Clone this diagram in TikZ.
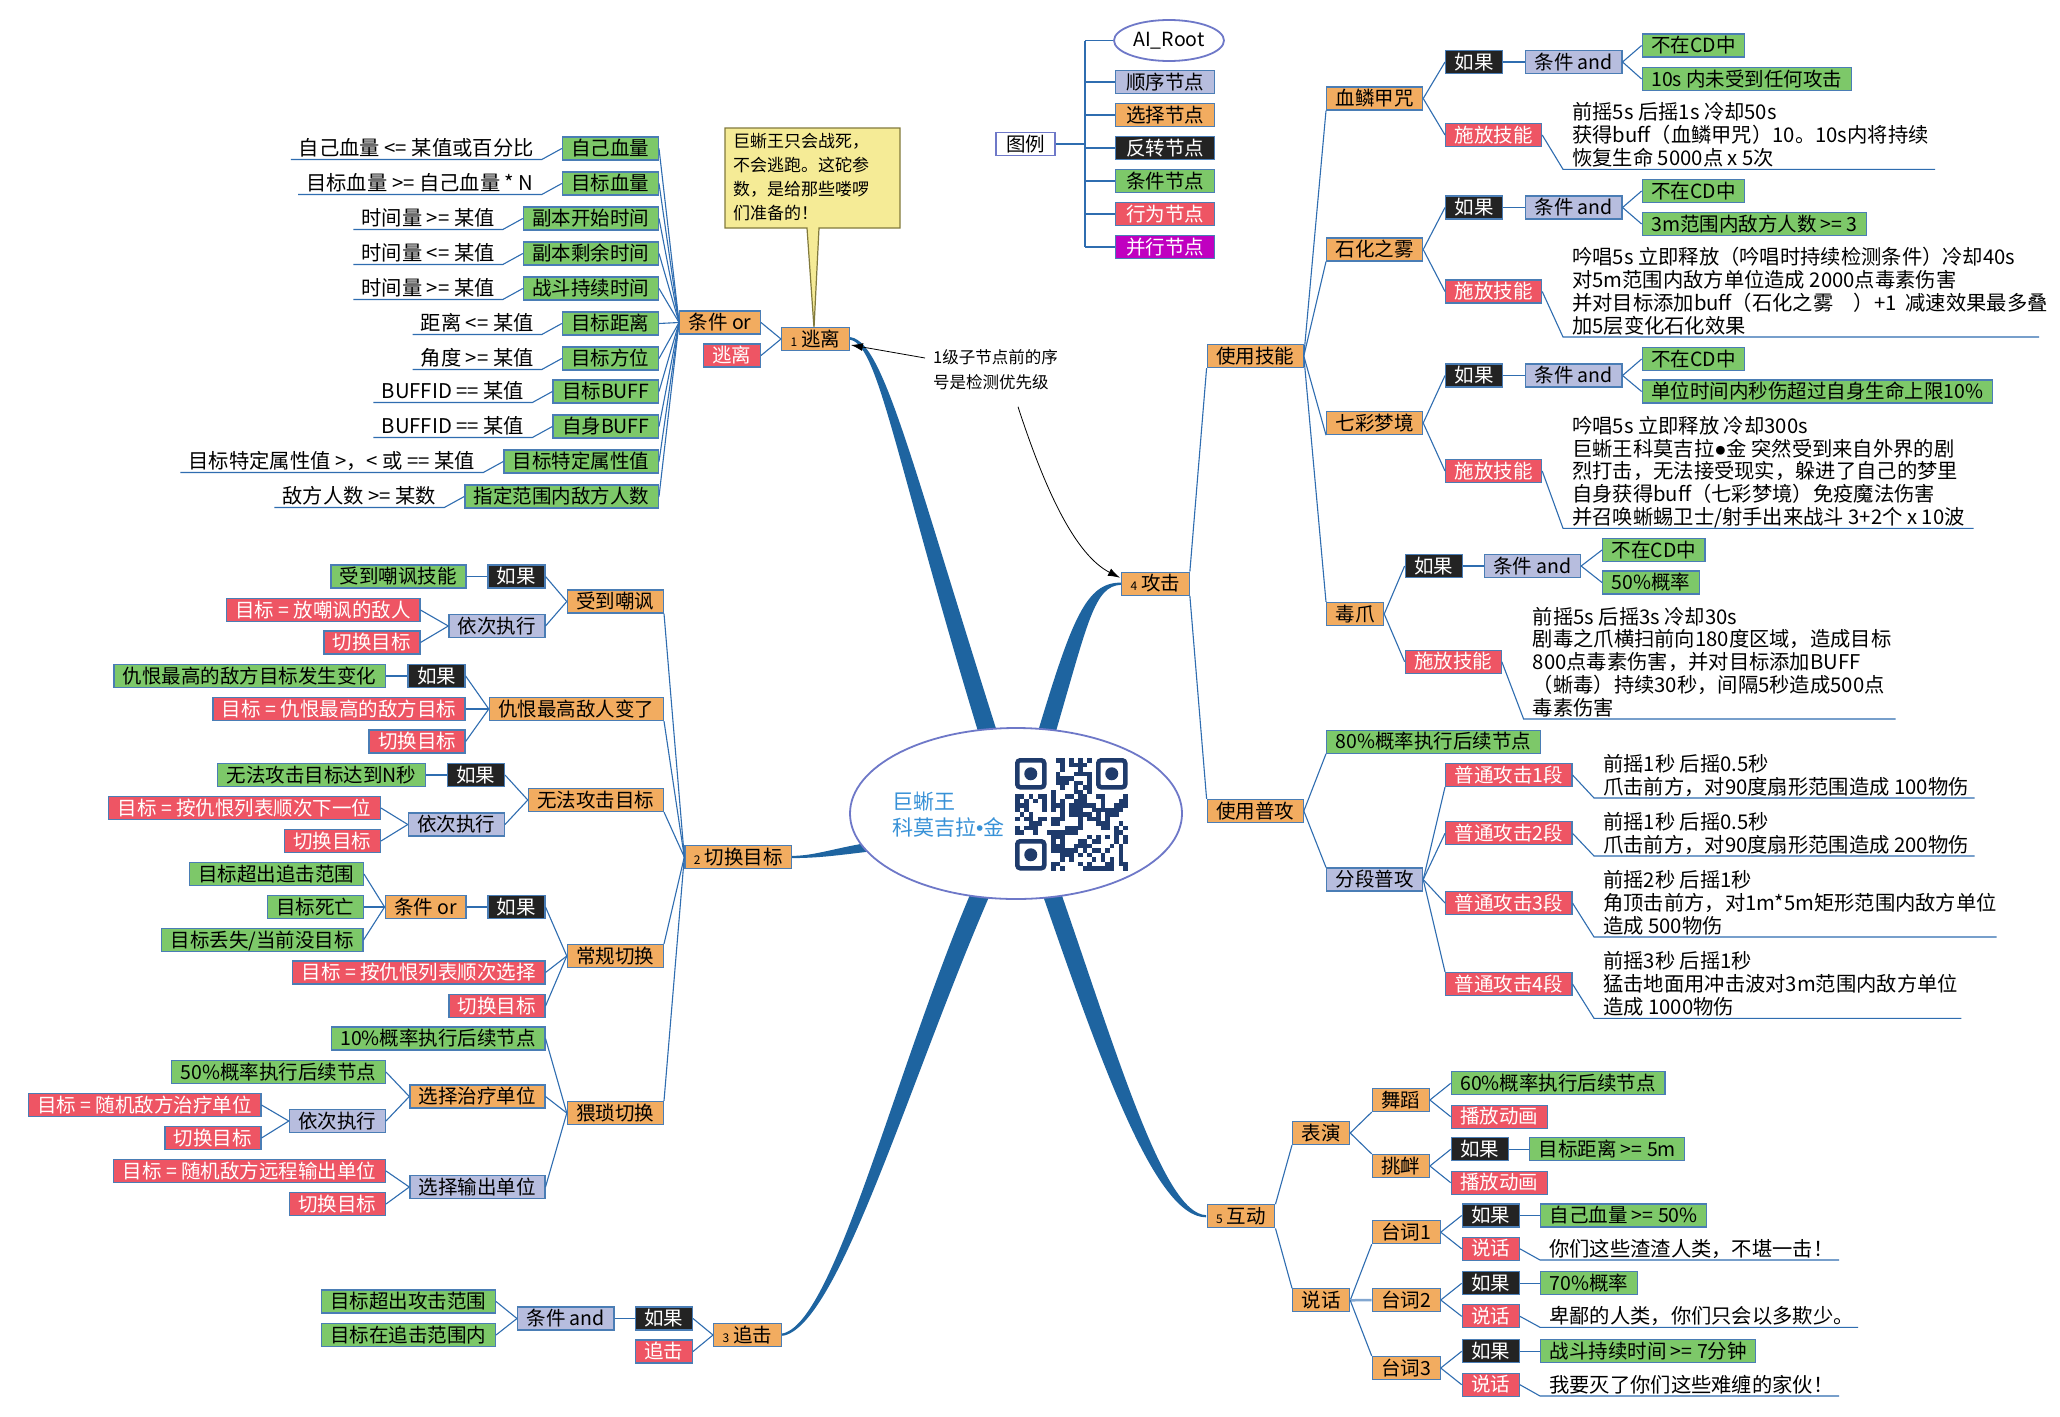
\documentclass[tikz,border=0pt]{standalone}
\usepackage{fontspec}
\setmainfont{Noto Sans CJK SC}
\newfontfamily\latinfont{Liberation Sans}
\usetikzlibrary{shapes.geometric,arrows.meta,calc}
\definecolor{orc}{HTML}{F2AC60}
\definecolor{grc}{HTML}{7DC869}
\definecolor{rdc}{HTML}{EE5564}
\definecolor{blk}{HTML}{232323}
\definecolor{lvc}{HTML}{B7BDDE}
\definecolor{mgc}{HTML}{C000C0}
\definecolor{bordc}{HTML}{4A7DB5}
\definecolor{lnc}{HTML}{2F6DB0}
\definecolor{trc}{HTML}{1E64A0}
\definecolor{elc}{HTML}{6E78C8}
\definecolor{ctc}{HTML}{3791D7}
\definecolor{qrc}{HTML}{1F3B6B}
\definecolor{cof}{HTML}{F5EB96}
\definecolor{cob}{HTML}{827A3C}
\newcommand\bfsz{\fontsize{19.5}{22.8}\selectfont}
\newcommand\txsz{\fontsize{20.3}{22.8}\selectfont}
\newcommand\numpre[1]{{\fontsize{12}{12}\selectfont #1}\hspace{4pt}}
\newcommand\lcond[3]{%
  \node[condtext, anchor=south east] (#2) at ($(#1.west)+(-20,11)$) {#3};
  \draw[conn] (#2.south west) -- (#2.south east) -- (#1.west);}
\tikzset{
  boxbase/.style={draw=bordc, line width=1.2pt, inner xsep=9pt, inner ysep=1.5pt, text height=17pt, text depth=3pt, font=\bfsz},
  orbox/.style={boxbase, fill=orc},
  grbox/.style={boxbase, fill=grc},
  rdbox/.style={boxbase, fill=rdc, text=white},
  bkbox/.style={boxbase, fill=blk, text=white},
  lvbox/.style={boxbase, fill=lvc},
  mgbox/.style={boxbase, fill=mgc, text=white},
  condtext/.style={inner xsep=8pt, inner ysep=0pt, text height=15pt, text depth=3.6pt, font=\txsz},
  blocktext/.style={inner xsep=9pt, inner ysep=0pt, text depth=3.6pt, font=\txsz, align=left},
  conn/.style={draw=lnc, line width=1.1pt},
  notearrow/.style={draw=black, line width=0.8pt, -{Latex[length=12pt,width=8pt]}},
}
\begin{document}
\begin{tikzpicture}[x=1pt,y=-1pt]
\useasboundingbox (0,0) rectangle (2060,1416);
\fill[white] (0,0) rectangle (2060,1416);

% ---------- trunks ----------
\fill[trc] (980,738) .. controls (893,452) and (878,339.5) .. (848,339.5) -- (848,337) .. controls (882,336.5) and (907,448) .. (999,738) -- cycle;
\fill[trc] (1036,738) .. controls (1072,618) and (1086,582.5) .. (1121,582.6) -- (1121,584.8) .. controls (1094,586) and (1088,622) .. (1054,738) -- cycle;
\fill[trc] (872,842) .. controls (830,849) and (815,855.8) .. (791,855.9) -- (791,858.1) .. controls (818,858) and (832,856) .. (874,851) -- cycle;
\fill[trc] (972,890) .. controls (892,1078) and (832,1333.6) .. (779,1333.9) -- (779,1336.1) .. controls (836,1337) and (908,1082) .. (992,890) -- cycle;
\fill[trc] (1041,890) .. controls (1101,1063) and (1155,1217.2) .. (1206,1217.3) -- (1206,1215.1) .. controls (1164,1214) and (1118,1057) .. (1060,890) -- cycle;

% ---------- central topic ----------
\node[ellipse, draw=elc, line width=1.8pt, fill=white, minimum width=332pt, minimum height=171pt] (root) at (1016,813.5) {};
\node[anchor=north west, inner sep=0pt, align=left, text=ctc, font=\fontsize{21}{25.6}\selectfont] (rootlabel) at (892,792) {巨蜥王\\科莫吉拉{\latinfont •}金};
\def\qx{1015}\def\qy{758}
\pgfmathsetseed{11}
\foreach \i in {0,...,24}{
  \foreach \j in {0,...,24}{
    \pgfmathtruncatemacro{\qsk}{((\i<8)&&(\j<8))||((\i>16)&&(\j<8))||((\i<8)&&(\j>16))}
    \pgfmathrandominteger{\qrr}{0}{99}
    \ifnum\qsk=0 \ifnum\qrr<50
      \fill[qrc] (\qx+\i*4.5,\qy+\j*4.5) rectangle ++(4.6,4.6);
    \fi\fi
  }
}
\foreach \fx/\fy in {0/0,81/0,0/81}{
  \draw[qrc, line width=4.5pt, rounded corners=3pt] (\qx+\fx+2.25,\qy+\fy+2.25) rectangle ++(27,27);
  \fill[qrc] (\qx+\fx+15.75,\qy+\fy+15.75) circle[radius=6.5pt];
}

% ---------- legend ----------
\node[ellipse, draw=elc, line width=1.8pt, fill=white, minimum width=110pt, minimum height=41pt, inner sep=0pt, font=\bfsz] (airoot) at (1169,40.5) {AI\_Root};
\node[lvbox, anchor=west, minimum width=99pt] (lg1) at (1115,82) {顺序节点};
\node[orbox, anchor=west, minimum width=99pt] (lg2) at (1115,115) {选择节点};
\node[bkbox, anchor=west, minimum width=99pt] (lg3) at (1115,148) {反转节点};
\node[grbox, anchor=west, minimum width=99pt] (lg4) at (1115,181) {条件节点};
\node[rdbox, anchor=west, minimum width=99pt] (lg5) at (1115,214) {行为节点};
\node[mgbox, anchor=west, minimum width=99pt] (lg6) at (1115,247) {并行节点};
\node[boxbase, fill=white, draw=elc, minimum width=59pt] (tuli) at (1025.5,144) {图例};
\coordinate (lgv) at (1085,144);
\draw[lnc, line width=2.5pt] (tuli.east) -- (lgv);
\draw[lnc, line width=2pt] (airoot.west -| lgv) -- (lg6.west -| lgv);
\foreach \n in {airoot,lg1,lg2,lg3,lg4,lg5,lg6} \draw[conn] (\n.west -| lgv) -- (\n.west);

% ---------- callout and note ----------
\filldraw[fill=cof, draw=cob, line width=1.2pt] (725,128) -- (900,128) -- (900,228) -- (819,228) -- (814,328) -- (807,228) -- (725,228) -- cycle;
\node[anchor=north west, inner sep=0pt, align=left, font=\fontsize{17}{24}\selectfont] (callout) at (733,133.5) {巨蜥王只会战死，\\不会逃跑。这砣参\\数，是给那些喽啰\\们准备的！};
\node[anchor=north west, inner sep=0pt, align=left, font=\fontsize{16.5}{25}\selectfont] (ann) at (933,349) {1级子节点前的序\\号是检测优先级};

% ---------- 1 escape ----------
\node[orbox, anchor=west] (taoli) at (781,339) {\numpre{1}逃离};
\node[orbox, anchor=east] (tjor) at (761,322.5) {条件 or};
\node[rdbox, anchor=east] (tlred) at (761,355.5) {逃离};
\node[grbox, anchor=east] (c1) at (659,148.5) {自己血量};
\node[grbox, anchor=east] (c2) at (659,183.5) {目标血量};
\node[grbox, anchor=east] (c3) at (659,218.5) {副本开始时间};
\node[grbox, anchor=east] (c4) at (659,253.5) {副本剩余时间};
\node[grbox, anchor=east] (c5) at (659,288.5) {战斗持续时间};
\node[grbox, anchor=east] (c6) at (659,323.5) {目标距离};
\node[grbox, anchor=east] (c7) at (659,358.5) {目标方位};
\node[grbox, anchor=east] (c8) at (659,391.5) {目标BUFF};
\node[grbox, anchor=east] (c9) at (659,426.5) {自身BUFF};
\node[grbox, anchor=east] (c10) at (659,461.5) {目标特定属性值};
\node[grbox, anchor=east] (c11) at (659,496.5) {指定范围内敌方人数};
\lcond{c1}{t1}{自己血量 <= 某值或百分比}
\lcond{c2}{t2}{目标血量 >= 自己血量 * N}
\lcond{c3}{t3}{时间量 >= 某值}
\lcond{c4}{t4}{时间量 <= 某值}
\lcond{c5}{t5}{时间量 >= 某值}
\lcond{c6}{t6}{距离 <= 某值}
\lcond{c7}{t7}{角度 >= 某值}
\lcond{c8}{t8}{BUFFID == 某值}
\lcond{c9}{t9}{BUFFID == 某值}
\lcond{c10}{t10}{目标特定属性值 >，< 或 == 某值}
\lcond{c11}{t11}{敌方人数 >= 某数}
\foreach \k in {1,...,11} \draw[conn] (c\k.east) -- (tjor.west);
\draw[conn] (tjor.east) -- (taoli.west);
\draw[conn] (tlred.east) -- (taoli.west);

% ---------- 2 switch target ----------
\node[orbox, anchor=west] (qh) at (684.3,857) {\numpre{2}切换目标};
\node[orbox, anchor=east] (sdcf) at (664,601.5) {受到嘲讽};
\node[orbox, anchor=east] (chbl) at (664,709) {仇恨最高敌人变了};
\node[orbox, anchor=east] (wfgj) at (664,800) {无法攻击目标};
\node[orbox, anchor=east] (cgqh) at (664,956) {常规切换};
\node[orbox, anchor=east] (wsqh) at (664,1113) {猥琐切换};
\draw[conn] (sdcf.south east) -- (qh.west);
\draw[conn] (chbl.south east) -- (qh.west);
\draw[conn] (wfgj.south east) -- (qh.west);
\draw[conn] (cgqh.north east) -- (qh.west);
\draw[conn] (wsqh.north east) -- (qh.west);

\node[bkbox, anchor=east] (rg1) at (545.5,576.5) {如果};
\node[grbox, anchor=east] (sdjn) at (466.5,576.5) {受到嘲讽技能};
\node[lvbox, anchor=east] (yc1) at (545.5,626) {依次执行};
\node[rdbox, anchor=east] (r1) at (420.5,610) {目标 = 放嘲讽的敌人};
\node[rdbox, anchor=east] (r2) at (420.5,642.5) {切换目标};
\draw[conn] (rg1.east) -- (sdcf.west);
\draw[conn] (yc1.east) -- (sdcf.west);
\draw[conn] (sdjn.east) -- (rg1.west);
\draw[conn] (r1.east) -- (yc1.west);
\draw[conn] (r2.east) -- (yc1.west);

\node[bkbox, anchor=east] (rg2) at (465.6,676) {如果};
\node[grbox, anchor=east] (g2) at (386,676) {仇恨最高的敌方目标发生变化};
\node[rdbox, anchor=east] (r3) at (465.6,709) {目标 = 仇恨最高的敌方目标};
\node[rdbox, anchor=east] (r4) at (465.6,741.5) {切换目标};
\draw[conn] (rg2.east) -- (chbl.west);
\draw[conn] (r3.east) -- (chbl.west);
\draw[conn] (r4.east) -- (chbl.west);
\draw[conn] (g2.east) -- (rg2.west);

\node[bkbox, anchor=east] (rg3) at (505,775) {如果};
\node[grbox, anchor=east] (g3) at (426,775) {无法攻击目标达到N秒};
\node[lvbox, anchor=east] (yc2) at (505,824.5) {依次执行};
\node[rdbox, anchor=east] (r5) at (381,808) {目标 = 按仇恨列表顺次下一位};
\node[rdbox, anchor=east] (r6) at (381,841) {切换目标};
\draw[conn] (rg3.east) -- (wfgj.west);
\draw[conn] (yc2.east) -- (wfgj.west);
\draw[conn] (g3.east) -- (rg3.west);
\draw[conn] (r5.east) -- (yc2.west);
\draw[conn] (r6.east) -- (yc2.west);

\node[bkbox, anchor=east] (rg4) at (545.5,907) {如果};
\node[orbox, anchor=east] (cor2) at (466.5,907) {条件 or};
\node[grbox, anchor=east] (g4) at (364,874) {目标超出追击范围};
\node[grbox, anchor=east] (g5) at (364,907) {目标死亡};
\node[grbox, anchor=east] (g6) at (363.5,940) {目标丢失/当前没目标};
\node[rdbox, anchor=east] (r7) at (545.5,972.5) {目标 = 按仇恨列表顺次选择};
\node[rdbox, anchor=east] (r8) at (545.5,1006) {切换目标};
\draw[conn] (rg4.east) -- (cgqh.west);
\draw[conn] (r7.east) -- (cgqh.west);
\draw[conn] (r8.east) -- (cgqh.west);
\draw[conn] (cor2.east) -- (rg4.west);
\draw[conn] (g4.east) -- (cor2.west);
\draw[conn] (g5.east) -- (cor2.west);
\draw[conn] (g6.east) -- (cor2.west);

\node[grbox, anchor=east] (g7) at (545.5,1038.5) {10\%概率执行后续节点};
\node[orbox, anchor=east] (zlzl) at (545.5,1096.5) {选择治疗单位};
\node[lvbox, anchor=east] (zsc) at (545.5,1187) {选择输出单位};
\node[grbox, anchor=east] (g8) at (386,1072) {50\%概率执行后续节点};
\node[lvbox, anchor=east] (yc3) at (386,1121) {依次执行};
\node[rdbox, anchor=east] (r9) at (261.5,1105) {目标 = 随机敌方治疗单位};
\node[rdbox, anchor=east] (r10) at (261.5,1138) {切换目标};
\node[rdbox, anchor=east] (r11) at (386,1171) {目标 = 随机敌方远程输出单位};
\node[rdbox, anchor=east] (r12) at (386,1204) {切换目标};
\draw[conn] (g7.east) -- (wsqh.west);
\draw[conn] (zlzl.east) -- (wsqh.west);
\draw[conn] (zsc.east) -- (wsqh.west);
\draw[conn] (g8.east) -- (zlzl.west);
\draw[conn] (yc3.east) -- (zlzl.west);
\draw[conn] (r9.east) -- (yc3.west);
\draw[conn] (r10.east) -- (yc3.west);
\draw[conn] (r11.east) -- (zsc.west);
\draw[conn] (r12.east) -- (zsc.west);

% ---------- 3 chase ----------
\node[orbox, anchor=west] (zj) at (713,1335) {\numpre{3}追击};
\node[bkbox, anchor=east] (rg5) at (693,1318.5) {如果};
\node[rdbox, anchor=east] (zjr) at (693,1351.5) {追击};
\node[lvbox, anchor=east] (cand) at (614.5,1318.5) {条件 and};
\node[grbox, anchor=east] (g9) at (496,1301.5) {目标超出攻击范围};
\node[grbox, anchor=east] (g10) at (496,1335) {目标在追击范围内};
\draw[conn] (rg5.east) -- (zj.west);
\draw[conn] (zjr.east) -- (zj.west);
\draw[conn] (cand.east) -- (rg5.west);
\draw[conn] (g9.east) -- (cand.west);
\draw[conn] (g10.east) -- (cand.west);

% ---------- 4 attack ----------
\node[orbox, anchor=west] (gj) at (1121,583.7) {\numpre{4}攻击};
\node[orbox, anchor=west] (syjn) at (1206.6,356) {使用技能};
\node[orbox, anchor=west] (sypg) at (1206.6,811) {使用普攻};
\draw[conn] (gj.north east) -- (syjn.south west);
\draw[conn] (gj.south east) -- (sypg.north west);

\node[orbox, anchor=west] (xljz) at (1326,98.5) {血鳞甲咒};
\node[orbox, anchor=west] (shzw) at (1326,249.5) {石化之雾};
\node[orbox, anchor=west] (qcmj) at (1326,423) {七彩梦境};
\node[orbox, anchor=west] (dz) at (1326,614) {毒爪};
\draw[conn] (syjn.east) -- (xljz.south west);
\draw[conn] (syjn.east) -- (shzw.south west);
\draw[conn] (syjn.east) -- (qcmj.south west);
\draw[conn] (syjn.east) -- (dz.north west);

\node[bkbox, anchor=west] (ifa) at (1445,62) {如果};
\node[lvbox, anchor=west] (anda) at (1525,62) {条件 and};
\node[grbox, anchor=west] (cda) at (1641.6,45.5) {不在CD中};
\node[grbox, anchor=west] (g10s) at (1641.6,79) {10s 内未受到任何攻击};
\node[rdbox, anchor=west] (sfa) at (1445,135) {施放技能};
\node[blocktext, anchor=south west] (b1) at (1563,169.3) {前摇5s 后摇1s 冷却50s\\获得buff（血鳞甲咒）10。10s内将持续\\恢复生命 5000点 x 5次};
\draw[conn] (xljz.east) -- (ifa.west);
\draw[conn] (xljz.east) -- (sfa.west);
\draw[conn] (ifa.east) -- (anda.west);
\draw[conn] (anda.east) -- (cda.west);
\draw[conn] (anda.east) -- (g10s.west);
\draw[conn] (sfa.east) -- (b1.south west) -- ++(372,0);

\node[bkbox, anchor=west] (ifb) at (1445,207.5) {如果};
\node[lvbox, anchor=west] (andb) at (1525,207.5) {条件 and};
\node[grbox, anchor=west] (cdb) at (1641.6,191) {不在CD中};
\node[grbox, anchor=west] (g3m) at (1641.6,224) {3m范围内敌方人数 >= 3};
\node[rdbox, anchor=west] (sfb) at (1445,291.5) {施放技能};
\node[blocktext, anchor=south west] (b2) at (1563,337) {吟唱5s 立即释放（吟唱时持续检测条件）冷却40s\\对5m范围内敌方单位造成 2000点毒素伤害\\并对目标添加buff（石化之雾　）+1\ \ 减速效果最多叠\\加5层变化石化效果};
\draw[conn] (shzw.east) -- (ifb.west);
\draw[conn] (shzw.east) -- (sfb.west);
\draw[conn] (ifb.east) -- (andb.west);
\draw[conn] (andb.east) -- (cdb.west);
\draw[conn] (andb.east) -- (g3m.west);
\draw[conn] (sfb.east) -- (b2.south west) -- ++(476,0);

\node[bkbox, anchor=west] (ifc) at (1445,375.5) {如果};
\node[lvbox, anchor=west] (andc) at (1525,375.5) {条件 and};
\node[grbox, anchor=west] (cdc) at (1641.6,359) {不在CD中};
\node[grbox, anchor=west] (gdw) at (1641.6,391.5) {单位时间内秒伤超过自身生命上限10\%};
\node[rdbox, anchor=west] (sfc) at (1445,471) {施放技能};
\node[blocktext, anchor=south west] (b3) at (1563,528.3) {吟唱5s 立即释放 冷却300s\\巨蜥王科莫吉拉{\latinfont ●}金 突然受到来自外界的剧\\烈打击，无法接受现实，躲进了自己的梦里\\自身获得buff（七彩梦境）免疫魔法伤害\\并召唤蜥蜴卫士/射手出来战斗 3+2个 x 10波};
\draw[conn] (qcmj.east) -- (ifc.west);
\draw[conn] (qcmj.east) -- (sfc.west);
\draw[conn] (ifc.east) -- (andc.west);
\draw[conn] (andc.east) -- (cdc.west);
\draw[conn] (andc.east) -- (gdw.west);
\draw[conn] (sfc.east) -- (b3.south west) -- ++(410.5,0);

\node[bkbox, anchor=west] (ifd) at (1404.6,566) {如果};
\node[lvbox, anchor=west] (andd) at (1483.6,566) {条件 and};
\node[grbox, anchor=west] (cdd) at (1602,550) {不在CD中};
\node[grbox, anchor=west] (g50) at (1602,582.5) {50\%概率};
\node[rdbox, anchor=west] (sfd) at (1404.6,661.7) {施放技能};
\node[blocktext, anchor=south west] (b4) at (1523.6,719) {前摇5s 后摇3s 冷却30s\\剧毒之爪横扫前向180度区域，造成目标\\800点毒素伤害，并对目标添加BUFF\\（蜥毒）持续30秒，间隔5秒造成500点\\毒素伤害};
\draw[conn] (dz.east) -- (ifd.west);
\draw[conn] (dz.east) -- (sfd.west);
\draw[conn] (ifd.east) -- (andd.west);
\draw[conn] (andd.east) -- (cdd.west);
\draw[conn] (andd.east) -- (g50.west);
\draw[conn] (sfd.east) -- (b4.south west) -- ++(372,0);

\node[grbox, anchor=west] (g80) at (1326,741.7) {80\%概率执行后续节点};
\node[lvbox, anchor=west] (fdpg) at (1326,879.5) {分段普攻};
\node[rdbox, anchor=west] (a1) at (1445,775) {普通攻击1段};
\node[rdbox, anchor=west] (a2) at (1445,833.3) {普通攻击2段};
\node[rdbox, anchor=west] (a3) at (1445,903) {普通攻击3段};
\node[rdbox, anchor=west] (a4) at (1445,984) {普通攻击4段};
\node[blocktext, anchor=south west] (b5) at (1594,798) {前摇1秒 后摇0.5秒\\爪击前方，对90度扇形范围造成 100物伤};
\node[blocktext, anchor=south west] (b6) at (1594,856) {前摇1秒 后摇0.5秒\\爪击前方，对90度扇形范围造成 200物伤};
\node[blocktext, anchor=south west] (b7) at (1594,937) {前摇2秒 后摇1秒\\角顶击前方，对1m*5m矩形范围内敌方单位\\造成 500物伤};
\node[blocktext, anchor=south west] (b8) at (1594,1018.3) {前摇3秒 后摇1秒\\猛击地面用冲击波对3m范围内敌方单位\\造成 1000物伤};
\draw[conn] (sypg.east) -- (g80.south west);
\draw[conn] (sypg.east) -- (fdpg.north west);
\draw[conn] (fdpg.east) -- (a1.south west);
\draw[conn] (fdpg.east) -- (a2.west);
\draw[conn] (fdpg.east) -- (a3.west);
\draw[conn] (fdpg.east) -- (a4.north west);
\draw[conn] (a1.east) -- (b5.south west) -- ++(380.6,0);
\draw[conn] (a2.east) -- (b6.south west) -- ++(380.6,0);
\draw[conn] (a3.east) -- (b7.south west) -- ++(402.5,0);
\draw[conn] (a4.east) -- (b8.south west) -- ++(367.4,0);

% ---------- 5 interact ----------
\node[orbox, anchor=west] (hd) at (1206.6,1216.3) {\numpre{5}互动};
\node[orbox, anchor=west] (biaoy) at (1292,1133) {表演};
\node[orbox, anchor=west] (shuo) at (1292,1300.3) {说话};
\node[orbox, anchor=west] (wd) at (1371.7,1100) {舞蹈};
\node[orbox, anchor=west] (tx) at (1371.7,1166) {挑衅};
\node[grbox, anchor=west] (g60) at (1450.7,1083.3) {60\%概率执行后续节点};
\node[rdbox, anchor=west] (bf1) at (1450.7,1116.7) {播放动画};
\node[bkbox, anchor=west] (ife) at (1450.7,1149.3) {如果};
\node[grbox, anchor=west] (gjl) at (1529,1149.3) {目标距离 >= 5m};
\node[rdbox, anchor=west] (bf2) at (1450.7,1182.7) {播放动画};
\node[orbox, anchor=west] (tc1) at (1371.7,1232.2) {台词1};
\node[orbox, anchor=west] (tc2) at (1371.7,1300) {台词2};
\node[orbox, anchor=west] (tc3) at (1371.7,1368) {台词3};
\node[bkbox, anchor=west] (iff) at (1461.7,1215.5) {如果};
\node[grbox, anchor=west] (gxl) at (1540,1215.5) {自己血量 >= 50\%};
\node[rdbox, anchor=west] (sh1) at (1461.7,1248.8) {说话};
\node[blocktext, anchor=south west] (b9) at (1540,1260) {你们这些渣渣人类，不堪一击！};
\node[bkbox, anchor=west] (ifg) at (1461.7,1283.3) {如果};
\node[grbox, anchor=west] (g70) at (1540,1283.3) {70\%概率};
\node[rdbox, anchor=west] (sh2) at (1461.7,1316.3) {说话};
\node[blocktext, anchor=south west] (b10) at (1540,1327.3) {卑鄙的人类，你们只会以多欺少。};
\node[bkbox, anchor=west] (ifh) at (1461.7,1351.3) {如果};
\node[grbox, anchor=west] (g7m) at (1540,1351.3) {战斗持续时间 >= 7分钟};
\node[rdbox, anchor=west] (sh3) at (1461.7,1384.7) {说话};
\node[blocktext, anchor=south west] (b11) at (1540,1396) {我要灭了你们这些难缠的家伙！};
\draw[conn] (hd.north east) -- (biaoy.south west);
\draw[conn] (hd.south east) -- (shuo.north west);
\draw[conn] (biaoy.east) -- (wd.south west);
\draw[conn] (biaoy.east) -- (tx.north west);
\draw[conn] (wd.east) -- (g60.west);
\draw[conn] (wd.east) -- (bf1.west);
\draw[conn] (tx.east) -- (ife.west);
\draw[conn] (tx.east) -- (bf2.west);
\draw[conn] (ife.east) -- (gjl.west);
\draw[conn] (shuo.east) -- (tc1.south west);
\draw[conn, line width=2.5pt, draw=lnc!60] (shuo.east) -- (tc2.west);
\draw[conn] (shuo.east) -- (tc3.north west);
\draw[conn] (tc1.east) -- (iff.west);
\draw[conn] (tc1.east) -- (sh1.west);
\draw[conn] (iff.east) -- (gxl.west);
\draw[conn] (sh1.east) -- (b9.south west) -- ++(299,0);
\draw[conn] (tc2.east) -- (ifg.west);
\draw[conn] (tc2.east) -- (sh2.west);
\draw[conn] (ifg.east) -- (g70.west);
\draw[conn] (sh2.east) -- (b10.south west) -- ++(318,0);
\draw[conn] (tc3.east) -- (ifh.west);
\draw[conn] (tc3.east) -- (sh3.west);
\draw[conn] (ifh.east) -- (g7m.west);
\draw[conn] (sh3.east) -- (b11.south west) -- ++(299,0);

% ---------- note arrows ----------
\draw[notearrow] ($(ann.north west)+(-8,9)$) -- ($(taoli.east)+(1,6)$);
\draw[notearrow] ($(ann.south west)+(85,17)$) .. controls +(27,83) and +(-45,-23) .. ($(gj.west)+(-1,-6)$);
\end{tikzpicture}
\end{document}
